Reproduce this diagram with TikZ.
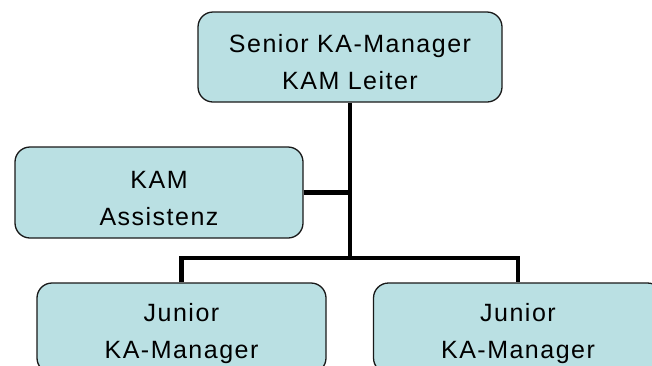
\documentclass[tikz,border=0pt]{standalone}
\usepackage{fontspec}
\setmainfont{Liberation Sans}
% taller first line pushes a two-line label slightly down in its box
\newcommand{\lowerlabel}{\rule{0pt}{29pt}}
\begin{document}
\begin{tikzpicture}[x=1pt,y=-1pt,
  orgbox/.style={draw=black!90, line width=1.3pt, fill=boxfill,
    rounded corners=15pt, align=center, inner sep=0pt,
    font=\fontsize{25}{37}\selectfont\addfontfeatures{LetterSpace=6}},
  link/.style={line width=4.8pt, draw=black}]
\definecolor{boxfill}{HTML}{BAE0E3}
\useasboundingbox (0,0) rectangle (652,365);
\clip (0,0) rectangle (652,365);
% boxes
\node[orgbox, minimum width=304pt, minimum height=90pt] (top) at (350,57)
  {\lowerlabel Senior KA-Manager\\KAM Leiter};
\node[orgbox, minimum width=288pt, minimum height=91pt] (assist) at (159,192.5)
  {\lowerlabel KAM\\Assistenz};
\node[orgbox, minimum width=289pt, minimum height=90pt] (jl) at (181.5,328)
  {\lowerlabel Junior\\KA-Manager};
\node[orgbox, minimum width=289pt, minimum height=90pt] (jr) at (518,328)
  {\lowerlabel Junior\\KA-Manager};
% connectors
\coordinate (bar) at (350,258);
\draw[link] (top.south) -- (bar);
\draw[link] (assist.east) -- (assist.east -| bar);
\draw[link, line join=miter] (jl.north) |- (bar) -| (jr.north);
\end{tikzpicture}
\end{document}
